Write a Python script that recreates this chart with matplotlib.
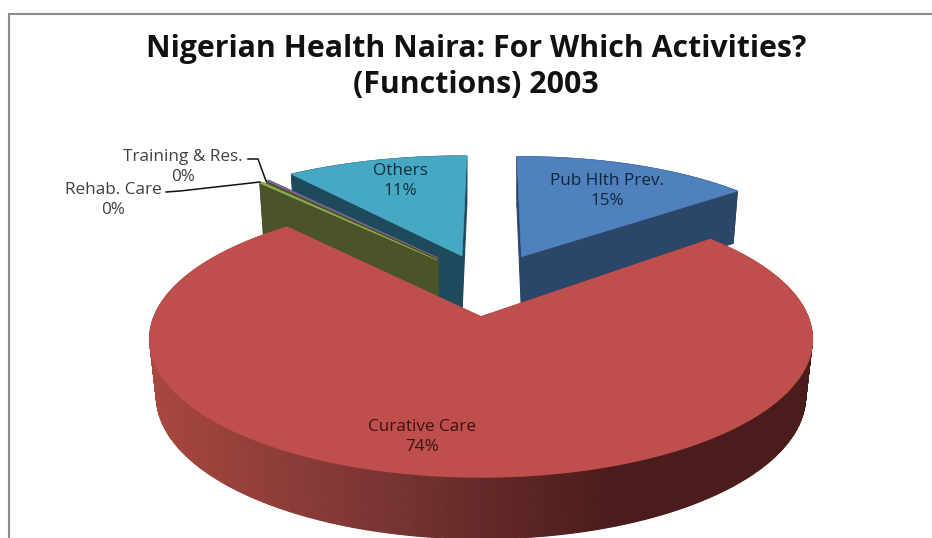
import numpy as np
import matplotlib
matplotlib.use("Agg")
import matplotlib.pyplot as plt
from matplotlib.colors import to_rgb

# Data
categories = ["Pub Hlth Prev.", "Curative Care", "Rehab. Care", "Training & Res.", "Others"]
values = [14.6, 74.4, 0.2, 0.15, 10.65]
title = "Nigerian Health Naira: For Which Activities?\n(Functions) 2003"

# Styles
top_colors = ["#4F81BD", "#BE4F4C", "#8FAB55", "#8064A2", "#47A8C4"]
wall_colors = ["#2B4668", None, "#4A5428", "#4A5428", "#1E4A5C"]
# per-slice projected geometry: apex x, apex y, A, B, k, rotation deg
geom = {
    0: (521.5, 256.7, 303, 116, 0.16, -1.0),
    1: (481, 317, 327, 134.3, 0.16, -2.0),
    2: (437, 260, 312, 112, 0.16, 0.0),
    3: (438, 258, 307, 111.5, 0.16, 0.0),
    4: (462, 256, 317, 116, 0.16, 1.0),
}
label_pos = {0: (607, 191), 1: (422, 437), 2: (113, 200), 3: (183, 167), 4: (400, 181)}
label_color = {0: "#10253F", 1: "#3B1210", 2: "#404040", 3: "#404040", 4: "#10303C"}
draw_order = [0, 4, 3, 2, 1]

fig = plt.figure(figsize=(9.32, 5.38), dpi=100)
ax = fig.add_axes([0, 0, 1, 1])
ax.set_xlim(0, 932)
ax.set_ylim(538, 0)
ax.axis("off")

vals = np.array(values, float)
edges = np.concatenate([[0], np.cumsum(vals) / vals.sum() * 360])


def project(i, r, theta):
    x0, y0, A, B, k, rot = geom[i]
    t = np.radians(theta + rot)
    u, v = r * np.sin(t), r * np.cos(t)
    w = 1 + k * v
    return x0 + A * u / w, y0 - B * v / w, v


def lower(i, x, y, v):
    x0 = geom[i][0]
    return x0 + (x - x0) * 0.98, y + 56 - 6 * v


def red_wall(x):
    a, m, b = map(np.array, (to_rgb("#A8473F"), to_rgb("#7A3533"), to_rgb("#4A1C1B")))
    t = np.clip((x - 148) / (610 - 148), 0, 1)
    return a + (m - a) * t * 2 if t < 0.5 else m + (b - m) * (t - 0.5) * 2


for i in draw_order:
    th = np.linspace(edges[i], edges[i + 1], max(3, int((edges[i + 1] - edges[i]) * 2)))
    ax_, ay_, av_ = project(i, 1.0, th)
    xs = np.concatenate([[geom[i][0]], ax_, [geom[i][0]]])
    ys = np.concatenate([[geom[i][1]], ay_, [geom[i][1]]])
    vs = np.concatenate([[0], av_, [0]])
    lx, ly = lower(i, xs, ys, vs)
    for j in range(len(xs) - 1):
        col = wall_colors[i] if wall_colors[i] else red_wall((xs[j] + xs[j + 1]) / 2)
        ax.fill([xs[j], xs[j + 1], lx[j + 1], lx[j]], [ys[j], ys[j + 1], ly[j + 1], ly[j]],
                color=col, lw=0.8, zorder=1)
    ax.fill(xs, ys, facecolor=top_colors[i], edgecolor=top_colors[i],
            lw=1.2 if i == 1 else 0.5, zorder=1)

for i in range(len(categories)):
    pct = f"{round(values[i])}%"
    ax.text(*label_pos[i], f"{categories[i]}\n{pct}", ha="center", va="center",
            fontsize=12.3, family="Open Sans", color=label_color[i], linespacing=1.3, zorder=5)

# leader lines
ax.plot([248, 258, 266], [159, 159, 181], color="#111111", lw=1.1, zorder=4)
ax.plot([166, 180, 260], [192, 191, 182], color="#111111", lw=1.1, zorder=4)

# chart frame
ax.plot([9, 9], [538, 14], color="#8C8C8C", lw=1.5, zorder=0)
ax.plot([9, 932], [14, 14], color="#8C8C8C", lw=1.5, zorder=0)

ax.text(476, 67, title, ha="center", va="center", fontsize=21.8, fontweight="bold",
        family="Open Sans", color="#111111", linespacing=1.27, zorder=5)

fig.savefig("out.png", dpi=100)
